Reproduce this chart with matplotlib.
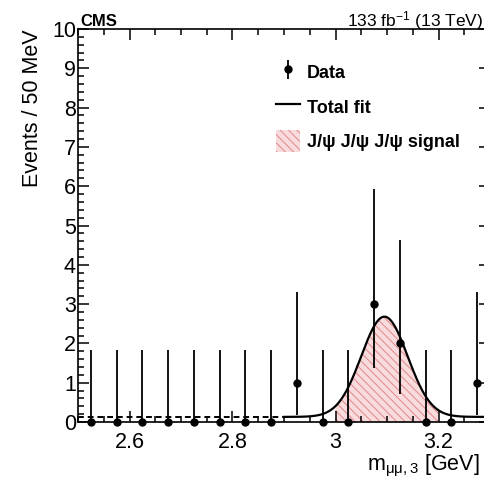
import numpy as np
import matplotlib
matplotlib.use("Agg")
import matplotlib.pyplot as plt
from matplotlib.lines import Line2D
from matplotlib.patches import Patch
from matplotlib.ticker import MultipleLocator

plt.rcParams["font.family"] = ["Liberation Sans", "DejaVu Sans"]
plt.rcParams["mathtext.fontset"] = "custom"
plt.rcParams["mathtext.rm"] = "Liberation Sans"
plt.rcParams["mathtext.it"] = "Liberation Sans:italic"
plt.rcParams["mathtext.bf"] = "Liberation Sans:bold"
plt.rcParams["hatch.linewidth"] = 0.7

# Binned data: 50 MeV bins
bin_centers = [2.525, 2.575, 2.625, 2.675, 2.725, 2.775, 2.825, 2.875,
               2.925, 2.975, 3.025, 3.075, 3.125, 3.175, 3.225, 3.275]
counts = [0, 0, 0, 0, 0, 0, 0, 0, 1, 0, 0, 3, 2, 0, 0, 1]

# 68% Poisson (Garwood) intervals for small counts
poisson_interval = {0: (0.0, 1.841), 1: (0.173, 3.300),
                    2: (0.708, 4.638), 3: (1.367, 5.918)}

# Fit model: constant background + Gaussian J/psi signal
bkg_level = 0.13
sig_amp = 2.55
sig_mean = 3.095
sig_width = 0.045
fit_range = (2.9, 3.3)
sideband_range = (2.5, 2.9)
signal_window = (3.0, 3.2)

x_ticks = [2.6, 2.8, 3.0, 3.2]
x_tick_labels = ["2.6", "2.8", "3", "3.2"]
y_ticks = list(range(0, 11))

W, H = 484, 483
fig = plt.figure(figsize=(W / 100, H / 100), dpi=100)
ax = fig.add_axes([78 / W, 61 / H, 412 / W, 393 / H])


def total_fit(x):
    return bkg_level + sig_amp * np.exp(-0.5 * ((x - sig_mean) / sig_width) ** 2)


sig_face, sig_edge = "#f8dcdd", "#e3868c"

# signal area
xs = np.linspace(signal_window[0], signal_window[1], 300)
ax.fill_between(xs, 0, total_fit(xs), facecolor=sig_face, edgecolor=sig_edge,
                hatch="\\\\\\\\", linewidth=0, zorder=1)

# fit curve
xf = np.linspace(fit_range[0], fit_range[1], 600)
ax.plot(xf, total_fit(xf), color="black", lw=1.6, zorder=3)
ax.plot(sideband_range, [bkg_level, bkg_level], color="black", lw=1.4,
        ls=(0, (3, 2)), zorder=3)

# data
lo = [c - poisson_interval[c][0] for c in counts]
hi = [poisson_interval[c][1] - c for c in counts]
data_eb = ax.errorbar(bin_centers, counts, yerr=[lo, hi], fmt="o", color="black",
                      ms=5, elinewidth=1.3, capsize=0, zorder=4, clip_on=False)

ax.set_xlim(2.5, 3.3)
ax.set_ylim(0, 10)
ax.set_xticks(x_ticks)
ax.set_xticklabels(x_tick_labels)
ax.set_yticks(y_ticks)
ax.xaxis.set_minor_locator(MultipleLocator(0.05))
ax.yaxis.set_minor_locator(MultipleLocator(0.2))
ax.tick_params(which="both", direction="in", top=True, right=True,
               labelsize=15.5, width=1.1)
ax.tick_params(axis="x", which="major", pad=7)
ax.tick_params(axis="y", which="major", pad=1.5)
ax.tick_params(which="major", length=8)
ax.tick_params(which="minor", length=4)
for s in ax.spines.values():
    s.set_linewidth(1.2)

ax.set_ylabel("Events / 50 MeV", fontsize=15.5, loc="top")
ax.yaxis.set_label_coords(-0.085, 1.0)

fig.text(480 / W, 1 - 470 / H, r"m$_{\mathrm{μμ,3}}$ [GeV]", fontsize=15.5,
         ha="right", va="baseline")
fig.text(80 / W, 1 - 26 / H, "CMS", fontsize=12, fontweight="bold",
         ha="left", va="baseline")
fig.text(347 / W, 1 - 26 / H, r"133 fb$^{\mathrm{-1}}$ (13 TeV)", fontsize=12.5,
         ha="left", va="baseline")

handles = [
    data_eb,
    Line2D([0], [0], color="black", lw=1.6),
    Patch(facecolor=sig_face, edgecolor=sig_edge, hatch="\\\\\\\\", lw=0),
]
labels = ["Data", "Total fit", "J/ψ J/ψ J/ψ signal"]
ax.legend(handles, labels, loc="upper left",
          bbox_to_anchor=(276 / W, 1 - 61 / H), bbox_transform=fig.transFigure,
          frameon=False, handlelength=1.35, handleheight=1.5, handletextpad=0.35,
          labelspacing=0.7, borderpad=0, borderaxespad=0,
          prop={"weight": "bold", "size": 13})

fig.savefig("out.png", dpi=100)
